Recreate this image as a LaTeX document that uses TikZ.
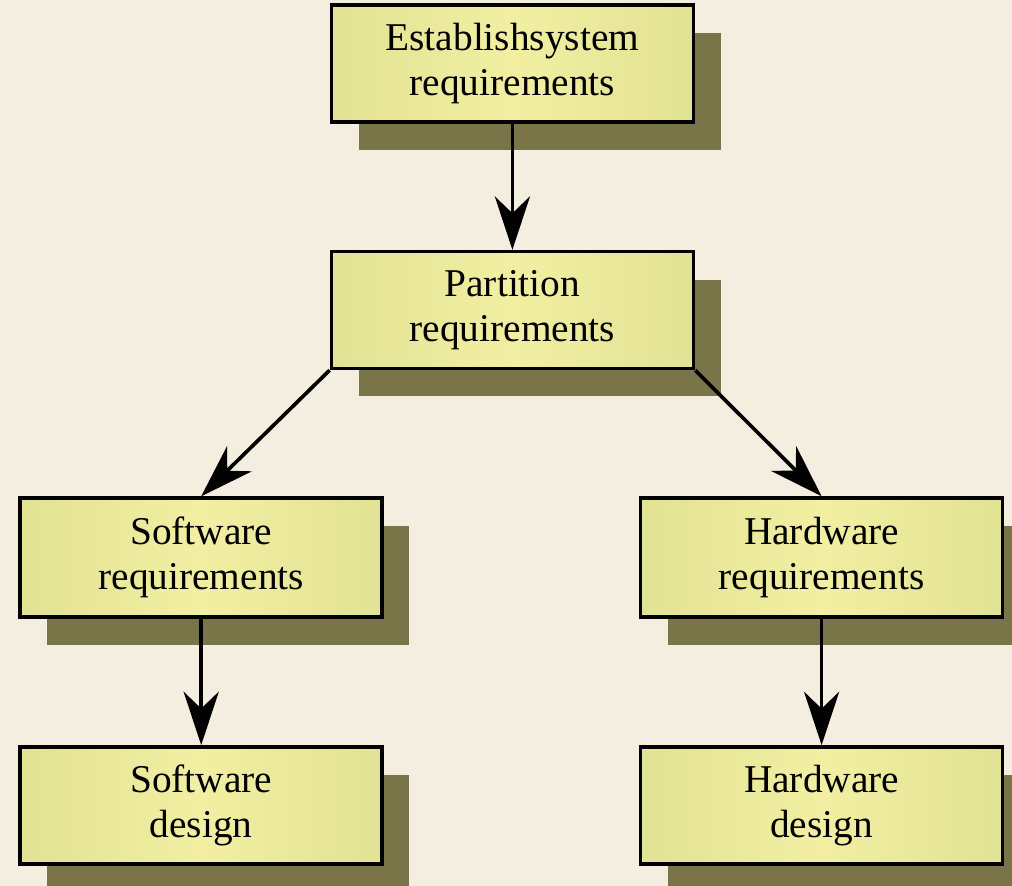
\documentclass[tikz,border=0pt]{standalone}
\usepackage{fontspec}
\setmainfont{Liberation Serif}
\usepackage{tikz}
\usetikzlibrary{arrows.meta, positioning, shadows}
\definecolor{bgcream}{HTML}{F4EEE0}
\definecolor{boxedge}{HTML}{E2E294}
\definecolor{boxmid}{HTML}{F2EFA2}
\definecolor{shade}{HTML}{7A7548}
\tikzstyle{block} = [rectangle, draw=black, line width=2.6pt, minimum width=9.05cm,
                     minimum height=2.92cm, text centered, align=center,
                     left color=boxedge, right color=boxedge, middle color=boxmid,
                     drop shadow={shadow xshift=0.68cm, shadow yshift=-0.7cm,
                                  fill=shade, opacity=1},
                     font=\fontsize{28}{32}\selectfont]
\tikzstyle{arrow} = [-{Stealth[length=38pt, width=25pt, inset=12pt]}, line width=2.6pt, black]

\begin{document}
\begin{tikzpicture}[node distance=3.15cm]

  \useasboundingbox (0,0) rectangle (25.3,-22.15);
  \fill[bgcream] (0,0) rectangle (25.3,-22.15);

  %% system level
  \node[block] (estab) at (12.81,-1.59) {Establishsystem\\requirements};
  \node[block, below=of estab] (part) {Partition\\requirements};

  %% requirements
  \node[block, minimum height=2.98cm, below=of part, xshift=-7.78cm] (swreq) {Software\\requirements};
  \node[block, minimum height=2.98cm, below=of part, xshift=7.73cm] (hwreq) {Hardware\\requirements};

  %% design
  \node[block, below=of swreq] (swdes) {Software\\design};
  \node[block, below=of hwreq] (hwdes) {Hardware\\design};

  %% arrows
  \draw[arrow] (estab.south) -- (part.north);
  \draw[arrow] (part.south west) -- (swreq.north);
  \draw[arrow] (part.south east) -- (hwreq.north);
  \draw[arrow] (swreq.south) -- (swdes.north);
  \draw[arrow] (hwreq.south) -- (hwdes.north);

\end{tikzpicture}
\end{document}
